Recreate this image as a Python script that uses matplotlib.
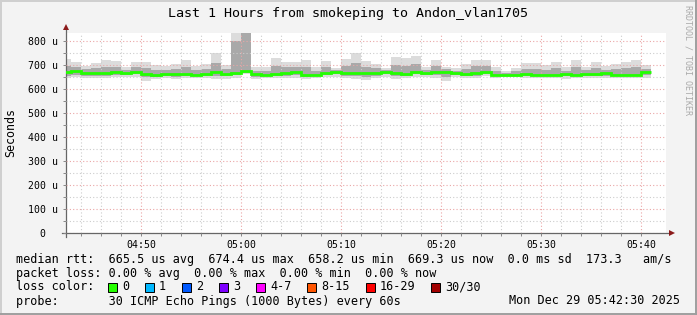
import matplotlib
matplotlib.use('Agg')
import matplotlib.pyplot as plt
from matplotlib.patches import Rectangle
from matplotlib.lines import Line2D
import numpy as np

plt.rcParams['font.family'] = ['DejaVu Sans Mono']

# one sample per minute, value = end of the minute (minutes after 04:00)
minutes = list(range(43, 102))

# smoke envelope (microseconds)
rtt_hi = [725, 711, 696, 707, 721, 717, 693, 712, 712, 700,
          697, 704, 721, 697, 703, 750, 700, 900, 900, 690,
          693, 731, 712, 712, 721, 690, 717, 689, 725, 750,
          717, 705, 689, 733, 729, 738, 693, 721, 693, 686,
          704, 721, 721, 690, 675, 688, 707, 708, 700, 711,
          690, 721, 693, 712, 697, 703, 712, 721, 700]
rtt_mid_hi = [696, 692, 682, 686, 692, 693, 680, 690, 686, 680,
              680, 684, 692, 678, 684, 710, 682, 800, 900, 676,
              676, 697, 690, 690, 690, 675, 692, 680, 696, 708,
              692, 686, 680, 700, 696, 704, 680, 696, 682, 676,
              684, 694, 696, 675, 668, 674, 685, 684, 680, 686,
              676, 690, 678, 686, 681, 682, 686, 690, 684]
rtt_median = [670, 674, 667, 666, 666, 670, 666, 671, 663, 658,
              663, 664, 664, 660, 664, 670, 663, 667, 674, 663,
              660, 664, 667, 669, 660, 660, 667, 671, 667, 667,
              667, 667, 670, 667, 664, 670, 667, 670, 670, 667,
              664, 667, 671, 660, 660, 660, 663, 660, 660, 660,
              663, 660, 664, 663, 667, 660, 660, 660, 669]
rtt_mid_lo = [656, 660, 656, 655, 655, 659, 657, 661, 648, 650,
              654, 652, 656, 654, 654, 656, 653, 657, 665, 652,
              654, 654, 656, 657, 652, 653, 659, 661, 656, 654,
              652, 656, 661, 655, 656, 661, 658, 658, 652, 659,
              655, 656, 663, 654, 655, 655, 656, 653, 654, 653,
              653, 653, 656, 655, 656, 653, 654, 654, 658]
rtt_lo = [644, 651, 647, 644, 644, 649, 649, 651, 633, 640,
          644, 640, 647, 647, 644, 642, 642, 647, 661, 640,
          647, 644, 644, 644, 640, 644, 651, 651, 644, 640,
          637, 644, 651, 642, 647, 651, 649, 644, 635, 651,
          644, 644, 656, 647, 651, 651, 647, 644, 647, 644,
          642, 644, 647, 647, 644, 644, 647, 647, 647]

xtick_pos = [50, 60, 70, 80, 90, 100]
xtick_labels = ['04:50', '05:00', '05:10', '05:20', '05:30', '05:40']
ytick_pos = [0, 100, 200, 300, 400, 500, 600, 700, 800]
ytick_labels = ['0  ', '100 u', '200 u', '300 u', '400 u', '500 u', '600 u', '700 u', '800 u']

loss_labels = ['0', '1', '2', '3', '4-7', '8-15', '16-29', '30/30']
loss_colors = ['#26ff00', '#00b8ff', '#0059ff', '#7e00ff', '#ff00ff', '#ff5500', '#ff0000', '#a10000']

W, H = 697, 315
BG = '#f3f3f3'


def fx(x):
    return x / W


def fy(y):
    return 1 - y / H


fig = plt.figure(figsize=(W / 100, H / 100), dpi=100, facecolor=BG)
ax = fig.add_axes([66 / W, 82 / H, 600 / W, 200 / H])
ax.set_facecolor('white')

edges = np.r_[np.array(minutes) - 1, minutes[-1]]
ax.stairs(rtt_hi, edges, baseline=rtt_lo, fill=True, color='#dcdcdc', lw=0, zorder=1)
ax.stairs(rtt_mid_hi, edges, baseline=rtt_mid_lo, fill=True, color='#a9a9a9', lw=0, zorder=1.2)
ax.stairs(rtt_median, edges, baseline=None, color='#22ff00', lw=2.0, zorder=3)

ax.set_xlim(42.5, 102.5)
ax.set_ylim(0, 833.3)
ax.set_xticks(xtick_pos, xtick_labels)
ax.set_xticks(range(44, 102, 2), minor=True)
ax.set_yticks(ytick_pos, ytick_labels)
ax.set_yticks(range(50, 833, 100), minor=True)
ax.set_axisbelow(False)
ax.grid(which='major', color='#eaa6a6', ls=(0, (1, 2)), lw=0.8)
ax.grid(which='minor', color='#cccccc', ls=(0, (1, 2)), lw=0.8)
ax.tick_params(which='both', direction='out', length=2, width=0.7, color='#888888',
               labelsize=7.1, labelcolor='black')
ax.tick_params(axis='y', pad=4)
ax.tick_params(axis='x', pad=3)
for s in ax.spines.values():
    s.set_visible(False)

# axis lines with arrow heads
ax.plot([-4 / 600, 1 + 4 / 600], [0, 0], color='#666666', lw=0.9, transform=ax.transAxes, clip_on=False)
ax.plot([0, 0], [-4 / 200, 1 + 4 / 200], color='#666666', lw=0.9, transform=ax.transAxes, clip_on=False)
ax.plot([1 + 6 / 600], [0], marker='>', ms=4.5, color='#8b1a1a', mew=0, transform=ax.transAxes, clip_on=False)
ax.plot([0], [1 + 6 / 200], marker='^', ms=4.5, color='#8b1a1a', mew=0, transform=ax.transAxes, clip_on=False)

fig.text(fx(348), fy(13), 'Last 1 Hours from smokeping to Andon_vlan1705',
         ha='center', va='center', fontsize=9.6)
fig.text(fx(10.5), fy(132), 'Seconds', rotation=90, ha='center', va='center', fontsize=8.4)
fig.text(fx(688), fy(5), 'RRDTOOL / TOBI OETIKER', rotation=270, ha='center', va='top',
         fontsize=6, color='#aaaaaa')

legend_fs = 8.45
fig.text(fx(16), fy(259), 'median rtt:  665.5 us avg  674.4 us max  658.2 us min  669.3 us now  0.0 ms sd  173.3   am/s',
         ha='left', va='center', fontsize=legend_fs)
fig.text(fx(16), fy(273), 'packet loss: 0.00 % avg  0.00 % max  0.00 % min  0.00 % now',
         ha='left', va='center', fontsize=legend_fs)
fig.text(fx(16), fy(287), 'loss color:', ha='left', va='center', fontsize=legend_fs)
fig.text(fx(16), fy(301), 'probe:       30 ICMP Echo Pings (1000 Bytes) every 60s',
         ha='left', va='center', fontsize=legend_fs)
fig.text(fx(680), fy(301), 'Mon Dec 29 05:42:30 2025', ha='right', va='center', fontsize=legend_fs)

bx = 108
for lab, col in zip(loss_labels, loss_colors):
    fig.add_artist(Rectangle((fx(bx), fy(291.5)), 9 / W, 9 / H, transform=fig.transFigure,
                             facecolor=col, edgecolor='black', lw=0.7))
    fig.text(fx(bx + 14), fy(287), lab, ha='left', va='center', fontsize=legend_fs)
    bx += 30 + 7.05 * len(lab)

# 3d frame
fig.add_artist(Line2D([0, 1], [1 - 1 / H, 1 - 1 / H], transform=fig.transFigure, color='#cfcfcf', lw=1.4))
fig.add_artist(Line2D([1 / W, 1 / W], [0, 1], transform=fig.transFigure, color='#cfcfcf', lw=1.4))
fig.add_artist(Line2D([0, 1], [1 / H, 1 / H], transform=fig.transFigure, color='#9e9e9e', lw=1.4))
fig.add_artist(Line2D([1 - 1 / W, 1 - 1 / W], [0, 1], transform=fig.transFigure, color='#9e9e9e', lw=1.4))

fig.savefig('out.png', dpi=100, facecolor=BG)
